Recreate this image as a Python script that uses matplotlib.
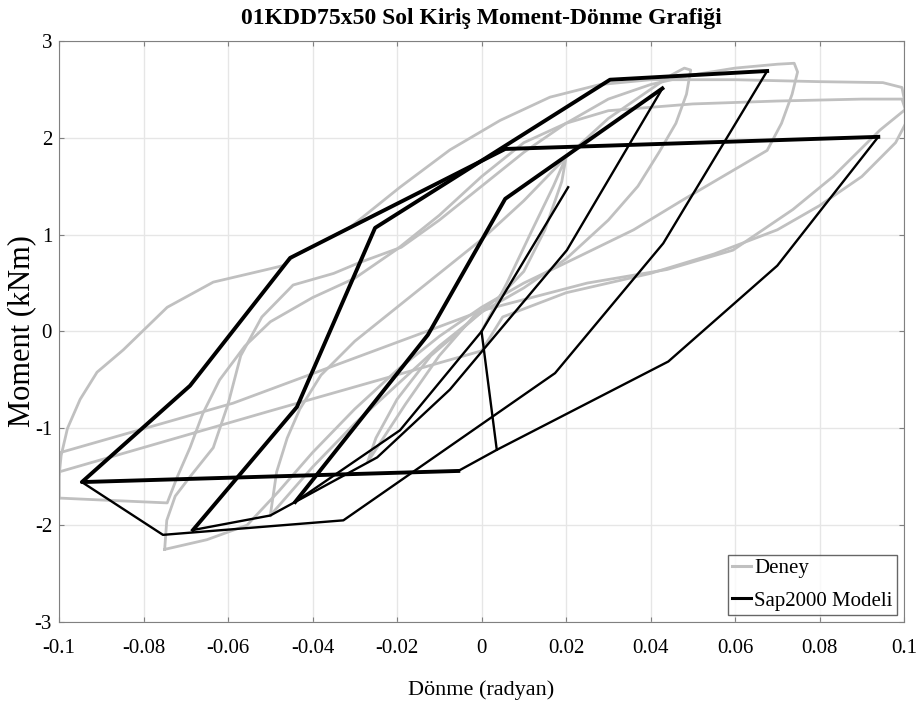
import matplotlib
matplotlib.use("Agg")
import matplotlib.pyplot as plt
import numpy as np

plt.rcParams["axes.unicode_minus"] = False

deney_x1 = [0.000, 0.006, 0.012, 0.017, 0.020, 0.019, 0.015, 0.010, 0.004, -0.002, -0.010, -0.018, -0.024, -0.027, -0.025, -0.020, -0.012, -0.004, 0.000]
deney_y1 = [0.00, 0.50, 1.05, 1.50, 1.80, 1.55, 1.05, 0.62, 0.35, 0.15, -0.25, -0.75, -1.15, -1.35, -1.10, -0.70, -0.25, 0.05, 0.20]

deney_x2 = [-0.050, -0.0485, -0.046, -0.043, -0.038, -0.030, -0.020, -0.010, 0.000, 0.010, 0.020, 0.030, 0.040, 0.045, 0.048, 0.0495, 0.0485, 0.046, 0.042, 0.037, 0.030, 0.020, 0.010, 0.000, -0.010, -0.020, -0.030, -0.040, -0.046, -0.050]
deney_y2 = [-1.90, -1.45, -1.10, -0.80, -0.45, -0.10, 0.25, 0.60, 0.95, 1.35, 1.80, 2.20, 2.50, 2.65, 2.72, 2.70, 2.45, 2.15, 1.85, 1.50, 1.15, 0.75, 0.45, 0.20, -0.15, -0.55, -0.95, -1.40, -1.70, -1.90]

deney_x3 = [-0.075, -0.0745, -0.0725, -0.069, -0.0635, -0.060, -0.057, -0.052, -0.0446, -0.035, -0.029, -0.019, -0.010, 0.000, 0.010, 0.020, 0.030, 0.040, 0.050, 0.060, 0.070, 0.074, 0.0748, 0.0735, 0.071, 0.0676, 0.0477, 0.036, 0.020, 0.010, 0.000, -0.010, -0.020, -0.030, -0.040, -0.048, -0.0555, -0.065, -0.075]
deney_y3 = [-2.25, -1.95, -1.70, -1.50, -1.20, -0.75, -0.25, 0.15, 0.48, 0.60, 0.71, 0.87, 1.15, 1.50, 1.85, 2.15, 2.40, 2.55, 2.65, 2.72, 2.76, 2.77, 2.68, 2.45, 2.15, 1.87, 1.36, 1.05, 0.71, 0.50, 0.25, -0.05, -0.40, -0.80, -1.25, -1.65, -2.00, -2.15, -2.25]

deney_x4 = [-0.100, -0.100, -0.0995, -0.098, -0.095, -0.091, -0.0848, -0.0744, -0.0635, -0.0508, -0.047, -0.0446, -0.031, -0.0193, -0.0075, 0.0044, 0.0162, 0.028, 0.040, 0.060, 0.080, 0.095, 0.0995, 0.1005, 0.0943, 0.0832, 0.0737, 0.0595, 0.0439, 0.025, 0.0004, -0.010, -0.0588, -0.0997]
deney_y4 = [-1.72, -1.50, -1.28, -1.00, -0.70, -0.42, -0.19, 0.25, 0.51, 0.64, 0.68, 0.77, 1.08, 1.49, 1.875, 2.18, 2.42, 2.55, 2.60, 2.60, 2.58, 2.57, 2.52, 2.30, 2.08, 1.60, 1.26, 0.84, 0.64, 0.50, 0.22, 0.05, -0.74, -1.25]

deney_x5 = [0.000, -0.050, -0.100, -0.100, -0.090, -0.0744, -0.072, -0.069, -0.066, -0.062, -0.056, -0.050, -0.040, -0.030, -0.020, -0.010, 0.000, 0.010, 0.020, 0.030, 0.050, 0.070, 0.090, 0.0995, 0.101, 0.098, 0.090, 0.080, 0.070, 0.055, 0.040, 0.020, 0.005, 0.000]
deney_y5 = [-0.20, -0.82, -1.45, -1.72, -1.74, -1.77, -1.50, -1.20, -0.85, -0.50, -0.15, 0.10, 0.35, 0.55, 0.85, 1.20, 1.60, 1.95, 2.15, 2.28, 2.35, 2.38, 2.40, 2.40, 2.20, 1.95, 1.60, 1.30, 1.05, 0.80, 0.60, 0.40, 0.15, -0.20]

# Sap2000 model branches; "thick" ones are run over twice in the model
thick_x1 = [0.0939, 0.0056, -0.0453, -0.0690, -0.0946, -0.0055]
thick_y1 = [2.01, 1.885, 0.76, -0.56, -1.555, -1.44]
thick_x2 = [-0.0683, -0.0437, -0.0252, 0.0304, 0.0676]
thick_y2 = [-2.05, -0.78, 1.07, 2.60, 2.69]
thick_x3 = [-0.0441, -0.0127, 0.0056, 0.0428]
thick_y3 = [-1.76, -0.035, 1.37, 2.51]

thin_x1 = [0.0205, 0.0, 0.0036]
thin_y1 = [1.49, 0.0, -1.22]
thin_x2 = [-0.0055, 0.0037, 0.0442, 0.0700, 0.0939]
thin_y2 = [-1.44, -1.22, -0.31, 0.68, 2.01]
thin_x3 = [-0.0946, -0.0754, -0.0327, 0.0174, 0.0430, 0.0676]
thin_y3 = [-1.555, -2.10, -1.95, -0.43, 0.91, 2.69]
thin_x4 = [-0.0683, -0.0500, -0.0441]
thin_y4 = [-2.05, -1.90, -1.76]
thin_x5 = [0.0428, 0.0202, -0.0075, -0.0247, -0.0441]
thin_y5 = [2.51, 0.84, -0.60, -1.30, -1.76]
thin_x6 = [0.0, -0.0193, -0.0441]
thin_y6 = [0.0, -1.02, -1.76]

fig = plt.figure(figsize=(9.21, 7.03), dpi=100)
ax = fig.add_axes([0.0641, 0.1152, 0.9175, 0.8265])

grey = "#c0c0c0"
for xs, ys in [(deney_x1, deney_y1), (deney_x2, deney_y2), (deney_x3, deney_y3),
               (deney_x4, deney_y4), (deney_x5, deney_y5)]:
    ax.plot(xs, ys, color=grey, lw=2.0, solid_joinstyle="round")
for xs, ys in [(thin_x1, thin_y1), (thin_x2, thin_y2), (thin_x3, thin_y3),
               (thin_x4, thin_y4), (thin_x5, thin_y5), (thin_x6, thin_y6)]:
    ax.plot(xs, ys, color="black", lw=1.7)
for xs, ys in [(thick_x1, thick_y1), (thick_x2, thick_y2), (thick_x3, thick_y3)]:
    ax.plot(xs, ys, color="black", lw=2.8)

ax.plot([], [], color=grey, lw=2.2, label="Deney")
ax.plot([], [], color="black", lw=2.2, label="Sap2000 Modeli")

ax.set_xlim(-0.1, 0.1)
ax.set_ylim(-3, 3)
ax.set_xticks(np.arange(-0.1, 0.101, 0.02))
ax.set_xticklabels(["-0.1", "-0.08", "-0.06", "-0.04", "-0.02", "0", "0.02", "0.04", "0.06", "0.08", "0.1"])
ax.set_yticks(range(-3, 4))
ax.set_yticklabels(["-3", "-2", "-1", "0", "1", "2", "3"])
ax.grid(True, color="#e6e6e6", lw=1)
ax.set_axisbelow(True)
for s in ax.spines.values():
    s.set_color("#808080")
ax.tick_params(direction="in", top=True, right=True, color="#808080", labelsize=15)
ax.tick_params(axis="x", pad=12)
ax.tick_params(axis="y", pad=5)
for lab in ax.get_xticklabels() + ax.get_yticklabels():
    lab.set_fontfamily("Liberation Serif")

ax.set_title("01KDD75x50 Sol Kiriş Moment-Dönme Grafiği", fontsize=17, fontweight="bold",
             family="Liberation Serif", pad=12)
ax.set_xlabel("Dönme (radyan)", fontsize=16, family="Liberation Serif", labelpad=16)
ax.set_ylabel("Moment (kNm)", fontsize=22, family="Liberation Serif")
ax.yaxis.set_label_coords(-0.044, 0.5)
ax.yaxis.label.set_verticalalignment("center")

leg = ax.legend(loc="lower right", prop={"family": "Liberation Serif", "size": 15},
                fancybox=False, edgecolor="#404040", handlelength=0.9, handletextpad=0.15,
                borderpad=0.2, labelspacing=0.6, borderaxespad=0.35)
leg.get_frame().set_linewidth(1.0)

fig.savefig("out.png", dpi=100)
